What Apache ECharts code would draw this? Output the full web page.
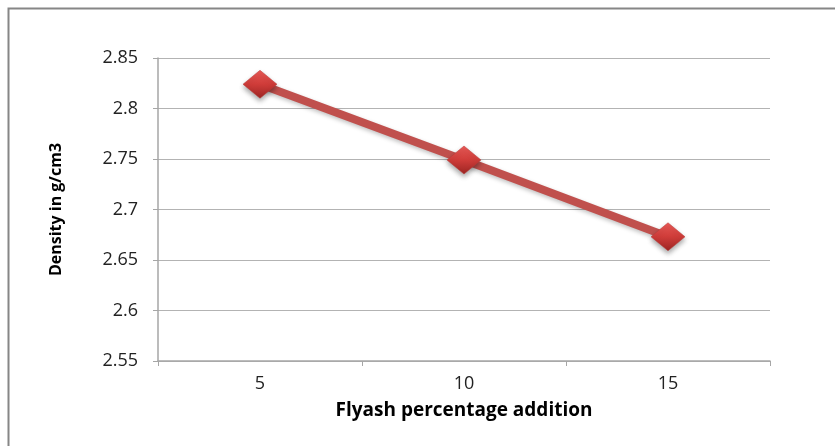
<!DOCTYPE html>
<html><head><meta charset="utf-8">
<script src="https://cdn.jsdelivr.net/npm/echarts@6/dist/echarts.min.js"></script>
<style>html,body{margin:0;padding:0;background:#fff}#c{width:835px;height:446px}</style>
</head><body><div id="c"></div>
<script>
const categories = ['5', '10', '15'];
const densityValues = [2.824, 2.749, 2.673];
const yTicks = { min: 2.55, max: 2.85, interval: 0.05 };

const chart = echarts.init(document.getElementById('c'));
const FONT = '"Open Sans", "Liberation Sans", sans-serif';
chart.setOption({
  animation: false,
  backgroundColor: '#fff',
  graphic: [{
    type: 'rect', silent: true,
    shape: { x: 8.5, y: 8.5, width: 900, height: 500 },
    style: { fill: 'none', stroke: '#868686', lineWidth: 2 }
  }],
  grid: { left: 158, right: 65, top: 58, bottom: 85, containLabel: false },
  xAxis: {
    type: 'category', data: categories, boundaryGap: true,
    name: 'Flyash percentage addition', nameLocation: 'middle', nameGap: 40,
    nameTextStyle: { fontFamily: FONT, fontWeight: 'bold', fontSize: 19, color: '#000' },
    axisLine: { lineStyle: { color: '#a6a6a6', width: 1.5 } },
    axisTick: { show: true, alignWithLabel: false, length: 5, lineStyle: { color: '#a6a6a6' } },
    axisLabel: { fontFamily: FONT, fontSize: 18, color: '#222', margin: 14 }
  },
  yAxis: {
    type: 'value', min: yTicks.min, max: yTicks.max, interval: yTicks.interval,
    name: 'Density in g/cm3', nameLocation: 'middle', nameGap: 94,
    nameTextStyle: { fontFamily: FONT, fontWeight: 'bold', fontSize: 16, color: '#000' },
    axisLine: { show: true, lineStyle: { color: '#a6a6a6', width: 1.5 } },
    axisTick: { show: true, length: 5, lineStyle: { color: '#a6a6a6' } },
    axisLabel: { fontFamily: FONT, fontSize: 18, color: '#222', margin: 20,
      formatter: v => String(parseFloat(v.toFixed(2))) },
    splitLine: { lineStyle: { color: '#b3b3b3', width: 1 } }
  },
  series: [{
    type: 'line', data: densityValues,
    lineStyle: { color: '#c0504d', width: 8, shadowColor: 'rgba(0,0,0,0.25)', shadowBlur: 4, shadowOffsetY: 2 },
    symbol: 'diamond', symbolSize: [34, 28],
    itemStyle: {
      color: new echarts.graphic.LinearGradient(0, 0, 0, 1, [
        { offset: 0, color: '#ea5a57' },
        { offset: 0.5, color: '#cf3c39' },
        { offset: 1, color: '#9c2523' }
      ]),
      borderColor: '#b93b38', borderWidth: 0.5,
      shadowColor: 'rgba(0,0,0,0.35)', shadowBlur: 5, shadowOffsetY: 3
    }
  }]
});
</script></body></html>
